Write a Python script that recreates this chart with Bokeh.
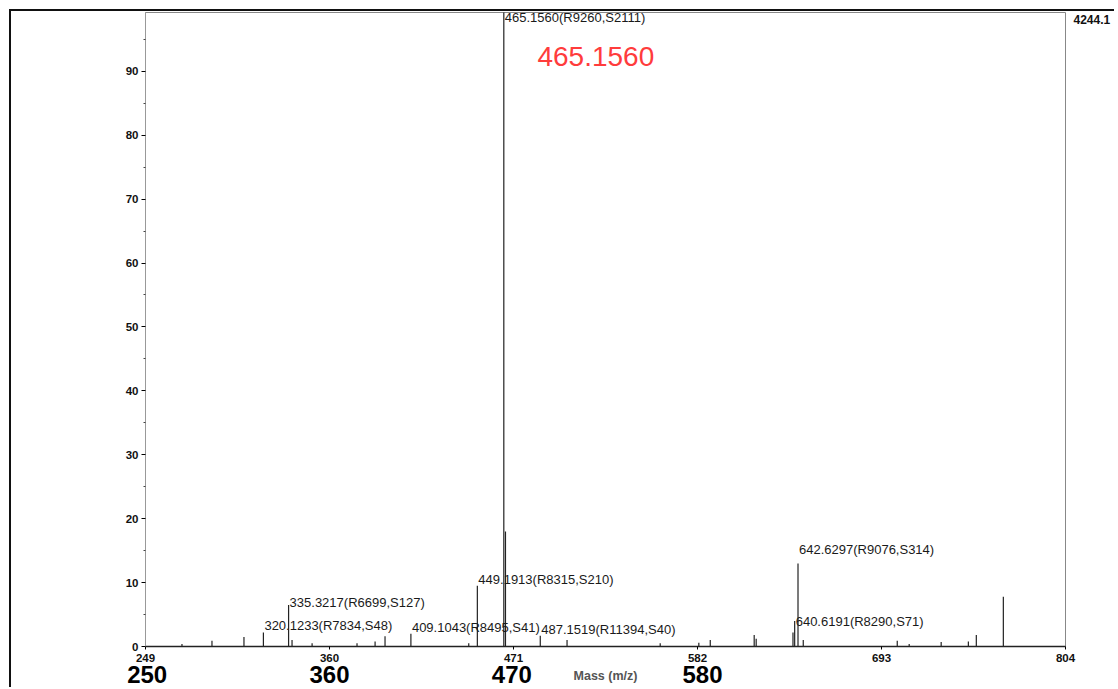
from bokeh.plotting import figure
from bokeh.models import Range1d, FixedTicker, Label, ColumnDataSource, LinearAxis
from bokeh.embed import file_html
from bokeh.resources import INLINE
from bokeh.core.properties import value

# ---- data ----
mz = [271.0, 289.1, 308.4, 320.1233, 335.3217, 337.4, 349.5, 376.6, 387.5, 393.5,
      409.1043, 444.0, 449.1913, 465.1560, 466.159, 487.1519, 503.3, 559.5, 582.8,
      589.7, 616.2, 617.4, 639.6, 640.6191, 642.6297, 645.8, 702.5, 709.7, 729.0,
      745.4, 750.2, 766.5]
intensity = [0.4, 0.9, 1.5, 2.2, 6.5, 1.0, 0.5, 0.5, 0.8, 1.6,
             2.0, 0.5, 9.5, 100.0, 18.0, 1.7, 1.0, 0.5, 0.6,
             1.0, 1.8, 1.2, 2.2, 4.0, 13.0, 1.0, 0.9, 0.4, 0.7,
             0.8, 1.8, 7.8]

label_mz = [465.1560, 449.1913, 335.3217, 320.1233, 409.1043, 487.1519, 642.6297, 640.6191]
label_text = ["465.1560(R9260,S2111)", "449.1913(R8315,S210)", "335.3217(R6699,S127)",
              "320.1233(R7834,S48)", "409.1043(R8495,S41)", "487.1519(R11394,S40)",
              "642.6297(R9076,S314)", "640.6191(R8290,S71)"]

x_ticks = [249, 360, 471, 582, 693, 804]
y_ticks = [0, 10, 20, 30, 40, 50, 60, 70, 80, 90]
big_tick_labels = ["250", "360", "470", "580"]
big_tick_positions = [250, 360, 470, 585]

base_peak = 465.1560
base_peak_text = "465.1560"
abs_intensity_text = "4244.1"
abs_intensity_pos = 98.1
x_title = "Mass (m/z)"

# ---- layout ----
FRAME_H = 634
Y_END = 99.2
PX_PER_UNIT = FRAME_H / Y_END
label_dy_px = [-5, 6, 2.5, 7, 6, 6, 14, -0.5]

p = figure(width=1105, height=678, output_backend="svg", toolbar_location=None,
           x_range=Range1d(249, 804), y_range=Range1d(0, Y_END),
           min_border_left=134, min_border_right=51, min_border_top=1, min_border_bottom=43)
p.styles = {"border-left": "2px solid #111", "border-top": "2px solid #111",
            "margin-left": "9px", "margin-top": "9px"}
p.background_fill_color = "white"
p.border_fill_color = "white"
p.outline_line_color = "#888888"
p.outline_line_width = 1
p.xgrid.visible = False
p.ygrid.visible = False

# peaks
p.segment(x0=mz, y0=[0] * len(mz), x1=mz, y1=intensity, line_color="#222222", line_width=1.2)

# peak labels
ly = []
for m, dy in zip(label_mz, label_dy_px):
    inten = intensity[mz.index(m)]
    ly.append(min(inten, Y_END) + dy / PX_PER_UNIT)
src = ColumnDataSource(dict(x=label_mz, y=ly, t=label_text))
p.text(x="x", y="y", text="t", source=src, text_font=value("Liberation Sans"),
       text_font_size="13px", text_baseline="middle", text_align="left",
       text_color="#1a1a1a", x_offset=1)

# axes
xa = p.xaxis[0]
xa.ticker = FixedTicker(ticks=x_ticks)
xa.axis_line_color = "#222222"
xa.axis_line_width = 1.5
xa.major_tick_out = 3
xa.major_tick_in = 0
xa.minor_tick_line_color = None
xa.major_label_standoff = 4
xa.major_label_text_font = "Liberation Sans"
xa.major_label_text_font_style = "bold"
xa.major_label_text_font_size = "11.5px"
xa.major_label_text_color = "#111111"

# second row of (large) x labels plus the axis title
xa2 = LinearAxis(ticker=FixedTicker(ticks=big_tick_positions),
                 major_label_overrides={pos: lab for pos, lab in zip(big_tick_positions, big_tick_labels)})
xa2.axis_line_color = None
xa2.major_tick_line_color = None
xa2.minor_tick_line_color = None
xa2.major_label_standoff = -5
xa2.major_label_text_font = "Liberation Sans"
xa2.major_label_text_font_style = "bold"
xa2.major_label_text_font_size = "24px"
xa2.major_label_text_color = "#000000"
xa2.axis_label = x_title
xa2.axis_label_standoff = -17
xa2.axis_label_text_font = "Liberation Sans"
xa2.axis_label_text_font_style = "bold"
xa2.axis_label_text_font_size = "12.5px"
xa2.axis_label_text_color = "#555555"
p.add_layout(xa2, "below")

ya = p.yaxis[0]
ya.ticker = FixedTicker(ticks=y_ticks, minor_ticks=[t + 5 for t in y_ticks])
ya.axis_line_color = "#999999"
ya.major_tick_out = 4
ya.major_tick_in = 0
ya.minor_tick_out = 2
ya.minor_tick_in = 0
ya.minor_tick_line_color = "#444444"
ya.major_label_standoff = 3
ya.major_label_text_font = "Liberation Sans"
ya.major_label_text_font_style = "bold"
ya.major_label_text_font_size = "11.5px"
ya.major_label_text_color = "#111111"

# absolute intensity of the base peak, shown at the right of the frame
ya2 = LinearAxis(ticker=FixedTicker(ticks=[abs_intensity_pos]),
                 major_label_overrides={abs_intensity_pos: abs_intensity_text})
ya2.axis_line_color = None
ya2.major_tick_line_color = None
ya2.minor_tick_line_color = None
ya2.major_tick_out = 0
ya2.major_tick_in = 0
ya2.major_label_standoff = 8
ya2.major_label_text_font = "Liberation Sans"
ya2.major_label_text_font_style = "bold"
ya2.major_label_text_font_size = "12px"
ya2.major_label_text_color = "#111111"
p.add_layout(ya2, "right")

# red annotation of the base peak
p.add_layout(Label(x=base_peak, y=Y_END - 44 / PX_PER_UNIT, text=base_peak_text,
                   x_offset=92, text_align="center", text_baseline="middle",
                   text_font="Liberation Sans", text_font_size="28px", text_color="#ff3c3c"))

open("out.html", "w").write(file_html(p, INLINE))
